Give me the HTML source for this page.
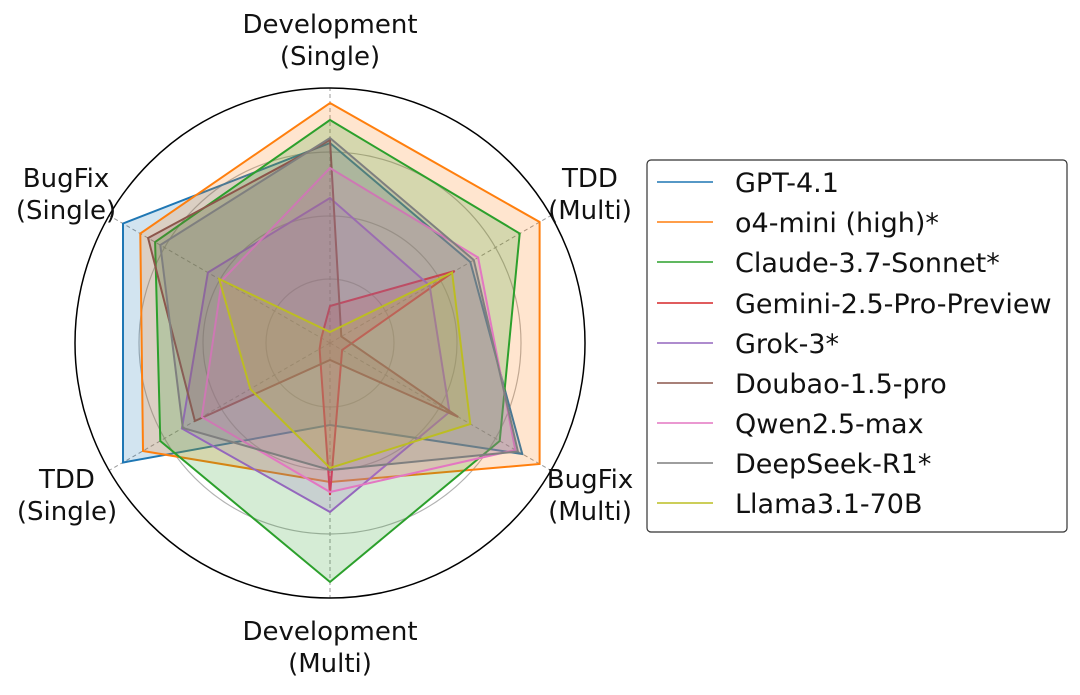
<!DOCTYPE html>
<html><head><meta charset="utf-8"><style>
body{margin:0;background:#fff;}
svg text{font-family:"DejaVu Sans","Liberation Sans",sans-serif;}
</style></head><body>
<svg width="1080" height="690" viewBox="0 0 1080 690" xmlns="http://www.w3.org/2000/svg">
<rect width="1080" height="690" fill="#fff"/>
<g fill="none" stroke="#000" stroke-opacity="0.3" stroke-width="1.2">
<circle cx="330" cy="343" r="64"/><circle cx="330" cy="343" r="127"/><circle cx="330" cy="343" r="191"/>
</g>
<g stroke="#999" stroke-dasharray="4,3" stroke-width="1">
<line x1="330" y1="343" x2="330" y2="88"/><line x1="330" y1="343" x2="330" y2="598"/>
<line x1="330" y1="343" x2="551" y2="215.5"/><line x1="330" y1="343" x2="551" y2="470.5"/>
<line x1="330" y1="343" x2="109" y2="215.5"/><line x1="330" y1="343" x2="109" y2="470.5"/>
</g>
<g fill-opacity="0.2" stroke-width="2" stroke-linejoin="miter">
<polygon fill="#1f77b4" stroke="#1f77b4" points="330,143 470.3,262 522.3,454 330,425 123,462.5 123,223.5"/>
<polygon fill="#ff7f0e" stroke="#ff7f0e" points="330,103 539.6,222 539.6,464 330,482 143,451 140.3,233.5"/>
<polygon fill="#2ca02c" stroke="#2ca02c" points="330,120 519.7,233.5 499.7,441 330,582 160.3,441 155.1,242"/>
<polygon fill="#d62728" stroke="#d62728" points="330,306 454.7,271 342.1,350 330,495 319.6,349 321.3,338"/>
<polygon fill="#9467bd" stroke="#9467bd" points="330,198 429.6,285.5 449.5,412 330,512 181.9,428.5 207.9,272.5"/>
<polygon fill="#8c564b" stroke="#8c564b" points="330,140 341.3,336.5 458.2,417 330,360 194.9,421 148.1,238"/>
<polygon fill="#e377c2" stroke="#e377c2" points="330,168 478.1,257.5 515.3,450 330,492 201.8,417 221.8,280.5"/>
<polygon fill="#7f7f7f" stroke="#7f7f7f" points="330,138 473.8,260 517.9,451.5 330,470 182.8,428 160.3,245"/>
<polygon fill="#bcbd22" stroke="#bcbd22" points="330,332 452.1,272.5 470.3,424 330,468 250.3,389 219.2,279"/>
</g>
<circle cx="330" cy="343" r="255" fill="none" stroke="#000" stroke-width="1.5"/>
<g font-size="26" fill="#111" text-anchor="middle">
<text x="330" y="33">Development</text><text x="330" y="65">(Single)</text>
<text x="590" y="187">TDD</text><text x="590" y="219">(Multi)</text>
<text x="590" y="488">BugFix</text><text x="590" y="520">(Multi)</text>
<text x="330" y="640">Development</text><text x="330" y="672">(Multi)</text>
<text x="67" y="488">TDD</text><text x="67" y="520">(Single)</text>
<text x="66" y="187">BugFix</text><text x="66" y="219">(Single)</text>
</g>
<rect x="647" y="160" width="420" height="372" rx="4" fill="#fff" stroke="#333" stroke-width="1.2"/>
<g stroke-width="1.5">
<line x1="657" y1="182" x2="713" y2="182" stroke="#1f77b4"/>
<line x1="657" y1="222" x2="713" y2="222" stroke="#ff7f0e"/>
<line x1="657" y1="262" x2="713" y2="262" stroke="#2ca02c"/>
<line x1="657" y1="303" x2="713" y2="303" stroke="#d62728"/>
<line x1="657" y1="343" x2="713" y2="343" stroke="#9467bd"/>
<line x1="657" y1="383" x2="713" y2="383" stroke="#8c564b"/>
<line x1="657" y1="423" x2="713" y2="423" stroke="#e377c2"/>
<line x1="657" y1="463" x2="713" y2="463" stroke="#7f7f7f"/>
<line x1="657" y1="503" x2="713" y2="503" stroke="#bcbd22"/>
</g>
<g font-size="27" fill="#111">
<text x="735" y="192">GPT-4.1</text>
<text x="735" y="232">o4-mini (high)*</text>
<text x="735" y="272">Claude-3.7-Sonnet*</text>
<text x="735" y="313">Gemini-2.5-Pro-Preview</text>
<text x="735" y="353">Grok-3*</text>
<text x="735" y="393">Doubao-1.5-pro</text>
<text x="735" y="433">Qwen2.5-max</text>
<text x="735" y="473">DeepSeek-R1*</text>
<text x="735" y="513">Llama3.1-70B</text>
</g>
</svg>
</body></html>
